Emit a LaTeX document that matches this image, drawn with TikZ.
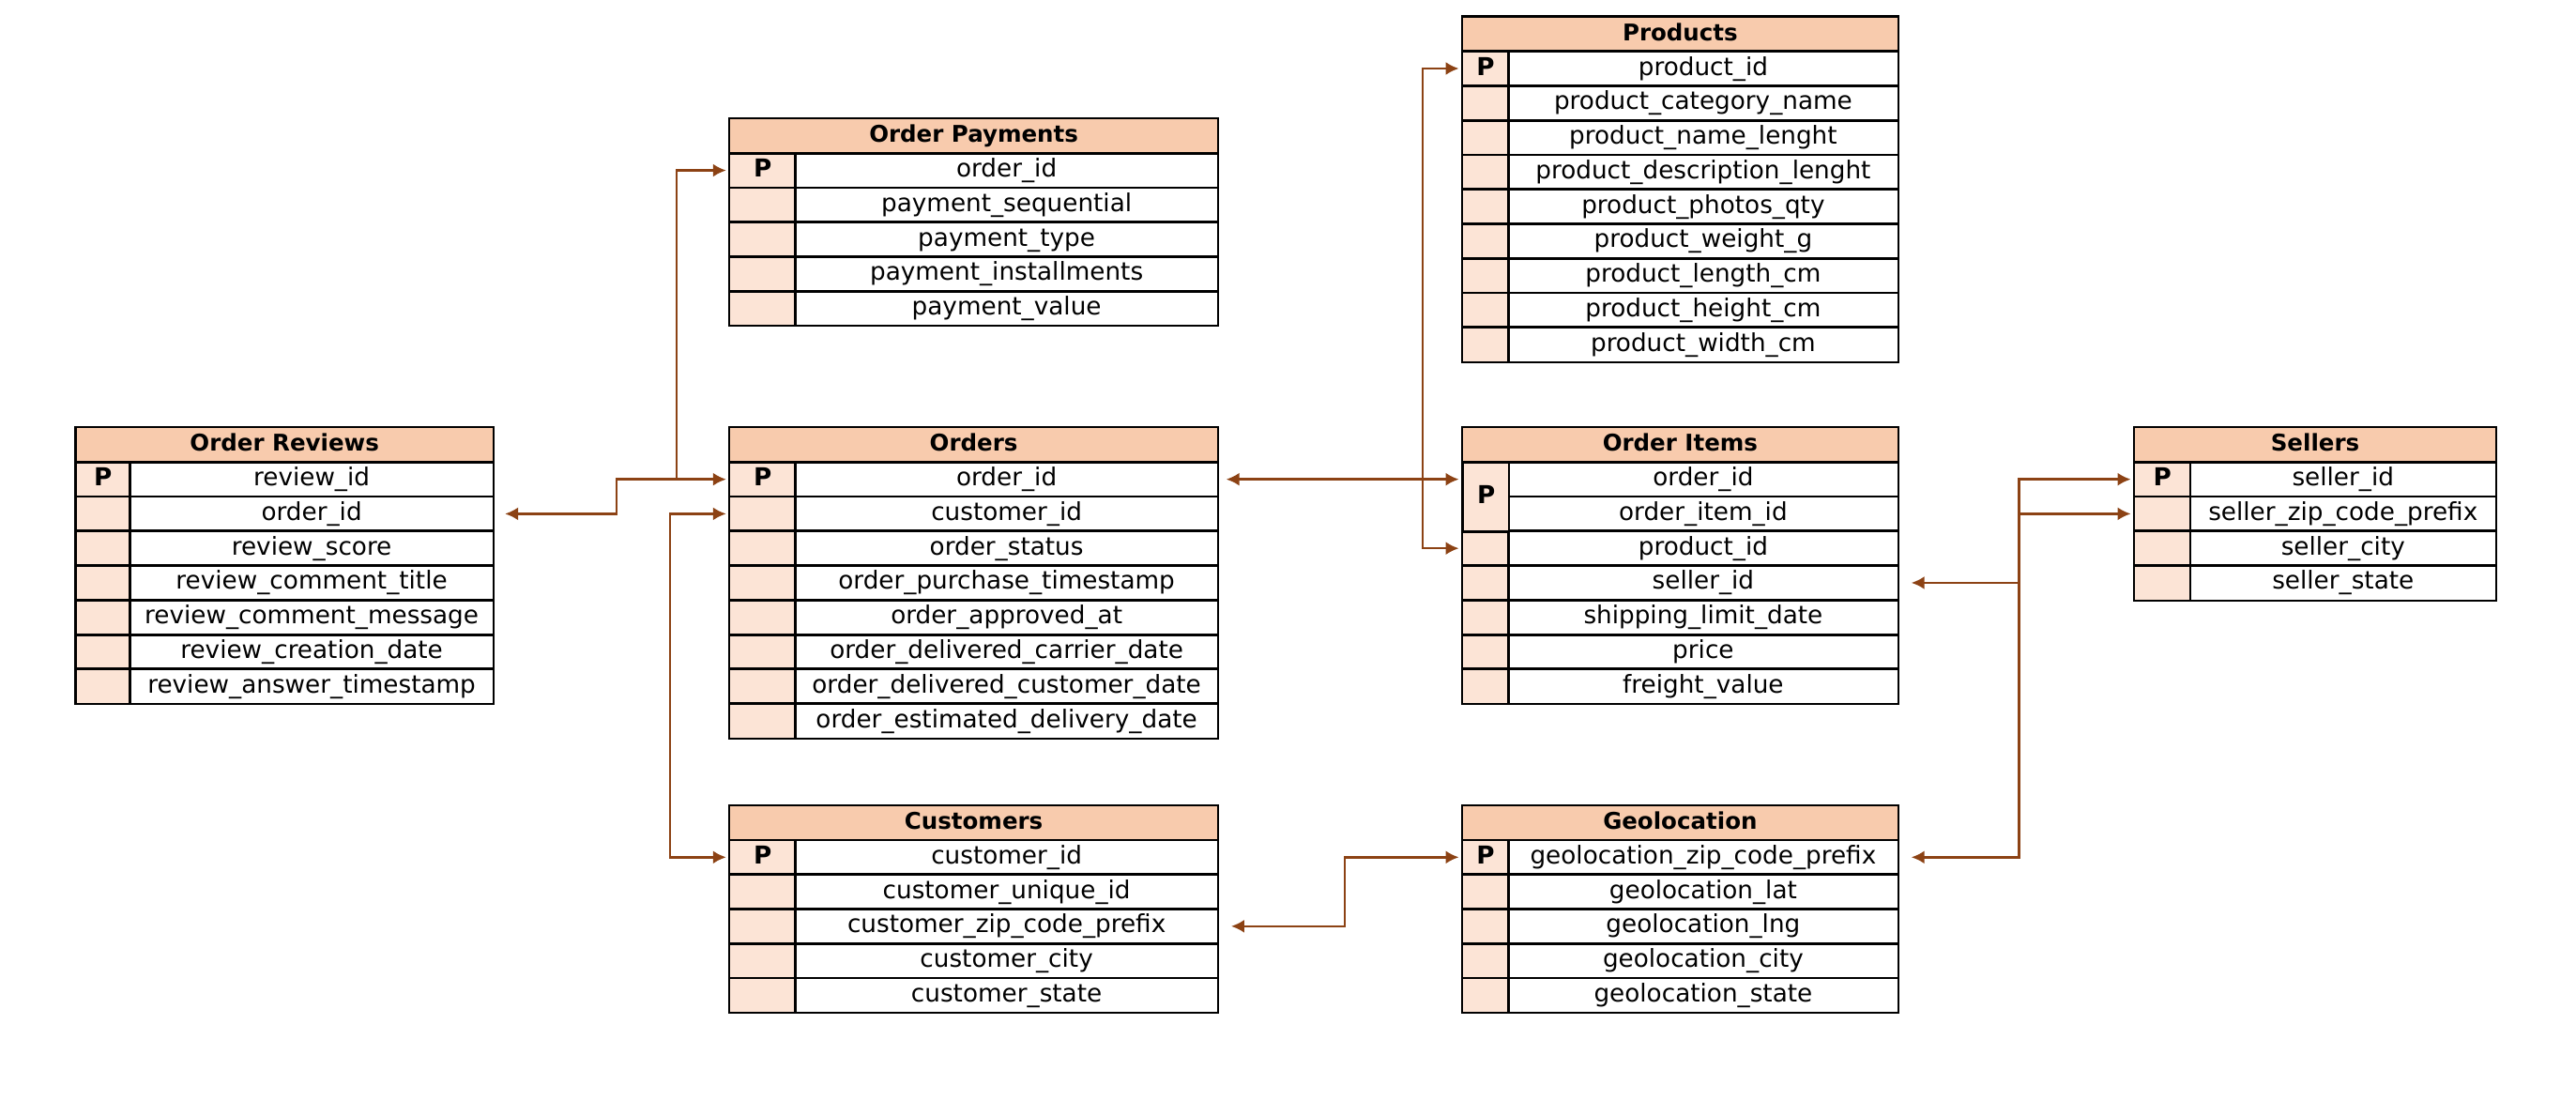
\documentclass[tikz,border=0pt]{standalone}
\usepackage{fontspec}
\setmainfont{DejaVu Sans}
\usetikzlibrary{arrows.meta,calc}
\definecolor{hdrfill}{HTML}{F8CBAD}
\definecolor{pfill}{HTML}{FCE4D6}
\definecolor{conncol}{RGB}{140,66,20}
\tikzset{
  cellbase/.style={inner sep=0pt, minimum height=21pt,
    text height=11pt, text depth=3pt, anchor=north west, font=\fontsize{15}{16}\selectfont},
  hdr/.style={cellbase, fill=hdrfill, font=\bfseries\fontsize{14}{16}\selectfont},
  pcell/.style={cellbase, fill=pfill, font=\bfseries\fontsize{15}{16}\selectfont},
  fcell/.style={cellbase, fill=white},
  grid/.style={draw=black, line width=1.2pt},
  pmark/.style={font=\bfseries\fontsize{15}{16}\selectfont, inner sep=0pt, text height=11pt, text depth=3pt},
  conn/.style={draw=conncol, line width=1.4pt, >={Latex[length=8pt,width=8pt]}}
}
\newcommand\erdtable[7]{%
  \node[hdr, minimum width={#3-#2}] (#1-h) at (#2,#5) {#6};
  \foreach \t [count=\i] in {#7} {
    \node[pcell, minimum width={#4}] (#1-p\i) at (#2,{#5+21*\i}) {};
    \node[fcell, minimum width={#3-#2-#4}] (#1-\i) at ({#2+#4},{#5+21*\i}) {\t};
  }
  \draw[grid] (#1-h.north west) rectangle (#1-h.south east);
  \foreach \t [count=\i] in {#7} {
    \draw[grid] (#1-p\i.north west) rectangle (#1-p\i.south east);
    \draw[grid] (#1-\i.north west) rectangle (#1-\i.south east);
  }
}
\begin{document}
\begin{tikzpicture}[x=1pt,y=-1pt]
\useasboundingbox (0,0) rectangle (1568,679);
\fill[white] (0,0) rectangle (1568,679);

\erdtable{prd}{890}{1155}{28}{10}{Products}{product\_id, product\_category\_name, product\_name\_lenght, product\_description\_lenght, product\_photos\_qty, product\_weight\_g, product\_length\_cm, product\_height\_cm, product\_width\_cm}
\erdtable{pay}{444}{741}{40}{72}{Order Payments}{order\_id, payment\_sequential, payment\_type, payment\_installments, payment\_value}
\erdtable{rev}{46}{300}{33}{260}{Order Reviews}{review\_id, order\_id, review\_score, review\_comment\_title, review\_comment\_message, review\_creation\_date, review\_answer\_timestamp}
\erdtable{ord}{444}{741}{40}{260}{Orders}{order\_id, customer\_id, order\_status, order\_purchase\_timestamp, order\_approved\_at, order\_delivered\_carrier\_date, order\_delivered\_customer\_date, order\_estimated\_delivery\_date}
\erdtable{itm}{890}{1155}{28}{260}{Order Items}{order\_id, order\_item\_id, product\_id, seller\_id, shipping\_limit\_date, price, freight\_value}
\erdtable{sel}{1299}{1519}{34}{260}{Sellers}{seller\_id, seller\_zip\_code\_prefix, seller\_city, seller\_state}
\erdtable{cus}{444}{741}{40}{490}{Customers}{customer\_id, customer\_unique\_id, customer\_zip\_code\_prefix, customer\_city, customer\_state}
\erdtable{geo}{890}{1155}{28}{490}{Geolocation}{geolocation\_zip\_code\_prefix, geolocation\_lat, geolocation\_lng, geolocation\_city, geolocation\_state}

% primary key marks
\node[pmark] (prd-pk) at (prd-p1) {P};
\node[pmark] (pay-pk) at (pay-p1) {P};
\node[pmark] (rev-pk) at (rev-p1) {P};
\node[pmark] (ord-pk) at (ord-p1) {P};
\node[pmark] (sel-pk) at (sel-p1) {P};
\node[pmark] (cus-pk) at (cus-p1) {P};
\node[pmark] (geo-pk) at (geo-p1) {P};
\node[pcell, grid, minimum width=28, minimum height=42] (itm-pk) at (890,281) {P};

% connectors
\coordinate (jpay) at ([xshift=-32]ord-p1.west);
\draw[conn,<->] ([xshift=7]rev-2.east) -- ++(68,0) |- ([xshift=-2]ord-p1.west);
\draw[conn,->] (jpay) |- ([xshift=-2]pay-p1.west);
\draw[conn,<->] ([xshift=-2]ord-p2.west) -- ++(-34,0) |- ([xshift=-2]cus-p1.west);
\draw[conn,<->] ([xshift=5]ord-1.east) -- ([xshift=-2]itm-p1.west |- ord-1.east);
\draw[conn,<->] ([xshift=-2]prd-p1.west) -- ++(-22,0) |- ([xshift=-2]itm-p3.west);
\coordinate (jsel1) at ([xshift=-70]sel-p1.west);
\coordinate (jsel2) at ([xshift=-70]sel-p2.west);
\draw[conn,<->] ([xshift=8]itm-4.east) -| (jsel1) -- ([xshift=-2]sel-p1.west);
\draw[conn,->] (jsel2) -- ([xshift=-2]sel-p2.west);
\draw[conn,<-] ([xshift=8]geo-1.east) -| (jsel1);
\draw[conn,<->] ([xshift=8]cus-3.east) -- ++(69,0) |- ([xshift=-2]geo-p1.west);
\end{tikzpicture}
\end{document}
